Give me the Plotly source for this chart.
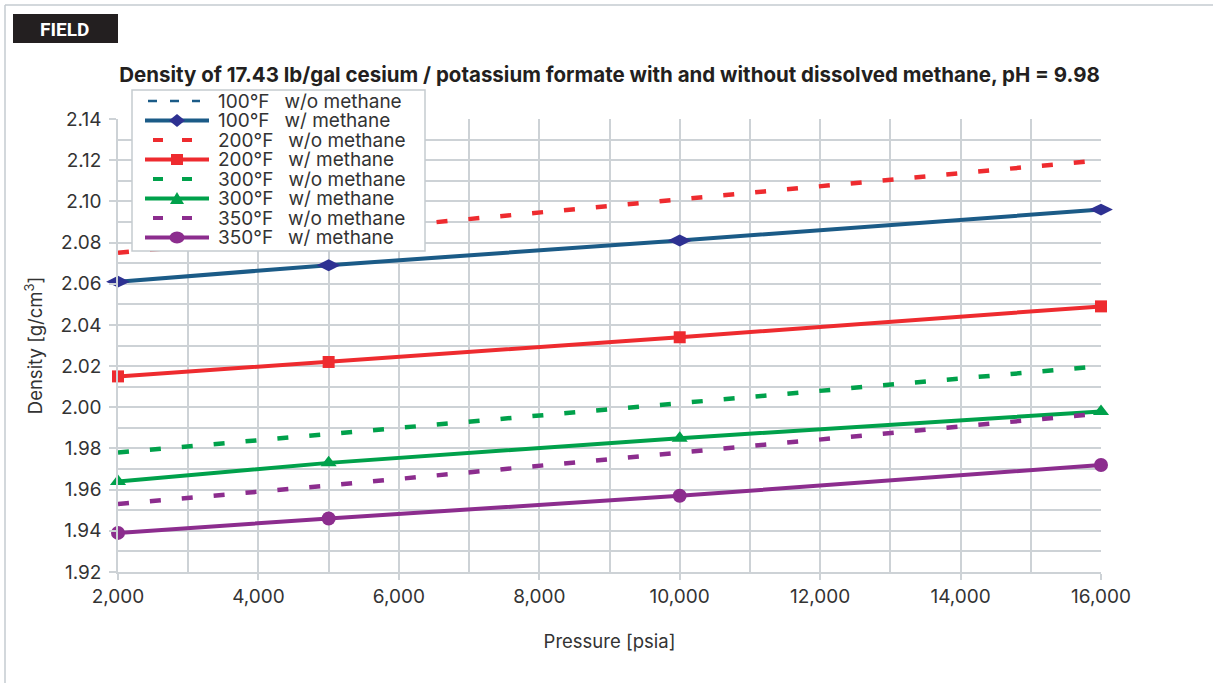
import plotly.graph_objects as go

# ---- data -------------------------------------------------------------
pressure = [2000, 5000, 10000, 16000]  # psia

density_100_wo = [2.146, 2.155, 2.170, 2.188]
density_100_w = [2.061, 2.069, 2.081, 2.096]
density_200_wo = [2.075, 2.085, 2.101, 2.120]
density_200_w = [2.015, 2.022, 2.034, 2.049]
density_300_wo = [1.978, 1.987, 2.002, 2.020]
density_300_w = [1.964, 1.973, 1.985, 1.998]
density_350_wo = [1.953, 1.962, 1.978, 1.997]
density_350_w = [1.939, 1.946, 1.957, 1.972]

series_names = [
    "100°F\u00a0\u2002w/o methane", "100°F\u00a0\u2002w/ methane",
    "200°F\u00a0\u2002w/o methane", "200°F\u00a0\u2002w/ methane",
    "300°F\u00a0\u2002w/o methane", "300°F\u00a0\u2002w/ methane",
    "350°F\u00a0\u2002w/o methane", "350°F\u00a0\u2002w/ methane",
]
series_values = [
    density_100_wo, density_100_w, density_200_wo, density_200_w,
    density_300_wo, density_300_w, density_350_wo, density_350_w,
]

x_tick_values = [2000, 4000, 6000, 8000, 10000, 12000, 14000, 16000]
y_tick_values = [1.92, 1.94, 1.96, 1.98, 2.00, 2.02, 2.04, 2.06, 2.08, 2.10, 2.12, 2.14]

title_text = ("Density of 17.43 lb/gal cesium / potassium formate with and "
              "without dissolved methane, pH = 9.98")

# ---- styling ----------------------------------------------------------
W, H = 1213, 683
ML, MR, MT, MB = 118, 112, 119, 111
PW, PH = W - ML - MR, H - MT - MB

BLUE, NAVY = "#1b5b87", "#2e3192"
RED, GREEN, PURPLE = "#ee2b2f", "#00a14b", "#8c2d8e"
GRID = "#cdd2d6"
TEXT = "#333333"
FONT = "Inter"

styles = [
    dict(color=BLUE, dash="9px,13px", width=3, symbol=None, mcolor=None, msize=0),
    dict(color=BLUE, dash="solid", width=4, symbol="diamond-wide", mcolor=NAVY, msize=17),
    dict(color=RED, dash="11px,21px", width=4.5, symbol=None, mcolor=None, msize=0),
    dict(color=RED, dash="solid", width=4, symbol="square", mcolor=RED, msize=12),
    dict(color=GREEN, dash="11px,21px", width=4.5, symbol=None, mcolor=None, msize=0),
    dict(color=GREEN, dash="solid", width=4, symbol="triangle-up", mcolor=GREEN, msize=14),
    dict(color=PURPLE, dash="11px,21px", width=4.5, symbol=None, mcolor=None, msize=0),
    dict(color=PURPLE, dash="solid", width=4, symbol="circle", mcolor=PURPLE, msize=14),
]

fig = go.Figure()
for name, vals, st in zip(series_names, series_values, styles):
    has_marker = st["symbol"] is not None
    fig.add_trace(go.Scatter(
        x=pressure, y=vals, name=name,
        mode="lines+markers" if has_marker else "lines",
        line=dict(color=st["color"], width=st["width"], dash=st["dash"]),
        marker=dict(symbol=st["symbol"], size=st["msize"], color=st["mcolor"],
                    line=dict(width=0)) if has_marker else None,
        cliponaxis=False,
        showlegend=False,
    ))


# ---- helpers to place decorations in pixel units -----------------------
def px(xp):
    return (xp - ML) / PW


def py(yp):
    return (H - MB - yp) / PH


shapes = []
annotations = []

# outer frame (top and left rules)
shapes.append(dict(type="line", xref="paper", yref="paper",
                   x0=px(5), x1=px(W + 2), y0=py(5), y1=py(5),
                   line=dict(color="#c5cbd0", width=1.5)))
shapes.append(dict(type="line", xref="paper", yref="paper",
                   x0=px(5), x1=px(5), y0=py(5), y1=py(H + 2),
                   line=dict(color="#c5cbd0", width=1.5)))

# section tag
shapes.append(dict(type="rect", xref="paper", yref="paper",
                   x0=px(13), x1=px(118), y0=py(14), y1=py(43),
                   fillcolor="#231f20", line=dict(width=0)))
annotations.append(dict(text="<b>FIELD</b>", xref="paper", yref="paper",
                        x=px(64), y=py(29), xanchor="center", yanchor="middle",
                        showarrow=False,
                        font=dict(family="Roboto", size=19, color="white")))

# legend box
LEG_X0, LEG_X1, LEG_Y0, LEG_Y1 = 132, 425, 90, 251
shapes.append(dict(type="rect", xref="paper", yref="paper",
                   x0=px(LEG_X0), x1=px(LEG_X1), y0=py(LEG_Y0), y1=py(LEG_Y1),
                   fillcolor="white", line=dict(color="#c5cbd0", width=1.5)))

row_y0, row_step = 101, 19.5
sym_x0, sym_x1, sym_xc, text_x = 145, 209, 177, 216


def marker_shape(symbol, cx, cy):
    if symbol == "diamond-wide":
        hw, hh = 8, 6.5
        path = (f"M {px(cx - hw)},{py(cy)} L {px(cx)},{py(cy - hh)} "
                f"L {px(cx + hw)},{py(cy)} L {px(cx)},{py(cy + hh)} Z")
        return dict(type="path", path=path)
    if symbol == "square":
        return dict(type="rect", x0=px(cx - 6), x1=px(cx + 6), y0=py(cy - 5.5), y1=py(cy + 5.5))
    if symbol == "triangle-up":
        path = (f"M {px(cx - 7)},{py(cy + 5.5)} L {px(cx)},{py(cy - 6.5)} "
                f"L {px(cx + 7)},{py(cy + 5.5)} Z")
        return dict(type="path", path=path)
    return dict(type="circle", x0=px(cx - 7.5), x1=px(cx + 7.5), y0=py(cy - 6), y1=py(cy + 6))


for i, (name, st) in enumerate(zip(series_names, styles)):
    yc = row_y0 + i * row_step
    if st["symbol"] is None:
        if i == 0:
            x0, x1 = 148, 200
        else:
            x0, x1 = 153, 193
        shapes.append(dict(type="line", xref="paper", yref="paper",
                           x0=px(x0), x1=px(x1), y0=py(yc), y1=py(yc),
                           line=dict(color=st["color"], width=st["width"] - 0.5,
                                     dash=st["dash"] if i == 0 else "10px,19px")))
    else:
        shapes.append(dict(type="line", xref="paper", yref="paper",
                           x0=px(sym_x0), x1=px(sym_x1), y0=py(yc), y1=py(yc),
                           line=dict(color=st["color"], width=st["width"])))
        ms = marker_shape(st["symbol"], sym_xc, yc)
        ms.update(xref="paper", yref="paper", fillcolor=st["mcolor"], line=dict(width=0))
        shapes.append(ms)
    annotations.append(dict(text=name, xref="paper", yref="paper",
                            x=px(text_x), y=py(yc), xanchor="left", yanchor="middle",
                            showarrow=False,
                            font=dict(family=FONT, size=19, color=TEXT)))

fig.update_layout(
    width=W, height=H,
    margin=dict(l=ML, r=MR, t=MT, b=MB, autoexpand=False),
    paper_bgcolor="white", plot_bgcolor="white",
    title=dict(text=f"<b>{title_text}</b>", x=0.5, xanchor="center", xref="paper",
               y=1 - 75 / H, yanchor="middle",
               font=dict(family=FONT, size=20.5, color="#231f20")),
    shapes=shapes, annotations=annotations,
    showlegend=False,
)

axis_common = dict(
    showgrid=True, gridcolor=GRID, gridwidth=1.5,
    showline=True, linecolor=GRID, linewidth=1.5,
    ticks="outside", tickcolor=GRID, tickwidth=1.5,
    tickfont=dict(family=FONT, size=19, color=TEXT),
    zeroline=False,
)

fig.update_xaxes(
    range=[2000, 16000], tickvals=x_tick_values, tickformat=",d", ticklen=6,
    minor=dict(dtick=1000, tick0=2000, showgrid=True, gridcolor=GRID, gridwidth=1.5),
    title=dict(text="Pressure [psia]", font=dict(family=FONT, size=18.5, color=TEXT), standoff=29),
    **axis_common,
)
fig.update_yaxes(
    range=[1.92, 2.14], tickvals=y_tick_values, tickformat=".2f", ticklen=7,
    minor=dict(dtick=0.01, tick0=1.92, showgrid=True, gridcolor=GRID, gridwidth=1.5),
    title=dict(text="Density [g/cm<sup>3</sup>]", font=dict(family=FONT, size=18.5, color=TEXT), standoff=13),
    ticklabelstandoff=4,
    **axis_common,
)

fig.write_html("out.html")
